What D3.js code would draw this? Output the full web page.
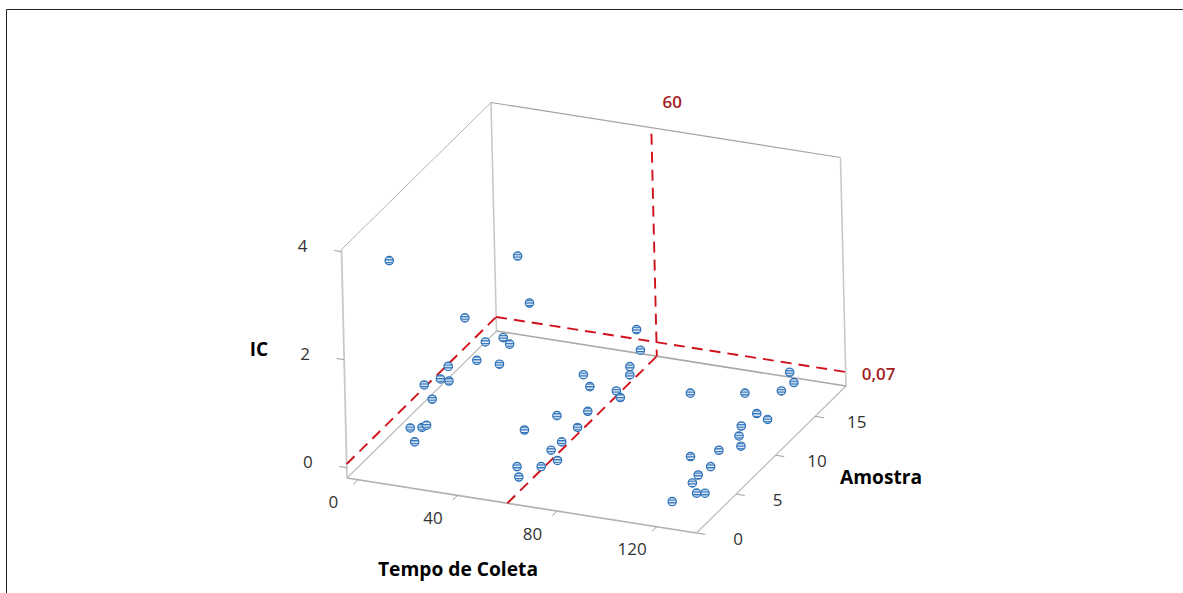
<!DOCTYPE html>
<html>
<head>
<meta charset="utf-8">
<script src="https://cdn.jsdelivr.net/npm/d3@7"></script>
<style>
	html, body { margin: 0; padding: 0; background: #fff; overflow: hidden; }
	text { font-family: 'Open Sans', 'Noto Sans', sans-serif; }
</style>
</head>
<body>
<div id="chart"></div>
<script>
// Values, one entry per point
var tempo = [
	10.4, 10.4, 10.4, 10.4, 10.4, 10.4, 10.4, 10.4, 12.4, 10.4, 10.4, 10.4, 10.4, 10.4, 10.4, 10.4, 10.4, 10.4,
	60.4, 66.4, 66.4, 66.4, 66.4, 66.4, 66.4, 60.4, 60.4, 66.4, 66.4, 66.4, 66.4, 66.4, 66.4, 66.4, 66.4, 66.4,
	129.4, 129.4, 129.4, 129.4, 129.4, 129.4, 129.4, 129.4, 129.4, 129.4, 129.4, 129.4, 129.4, 129.4, 129.4, 129.4, 129.4, 120.4
];
var amostra = [
	1.33, 17.2, 18.52, 10.5, 12.96, 15.17, 15.95, 11.85, 14.02, 8.3, 7.3, 8.35, 5.28, 6.22, 3.43, 4.88, 5.45, 3.93,
	2.21, 4.43, 6.94, 4.94, 3.6, 4.36, 2.33, 1.19, 1.38, 14.52, 14.93, 13.58, 13.55, 7.82, 8.58, 11.84, 12.31, 8.25,
	1.68, 8.42, 14.01, 14.5, 12.93, 9.82, 11.14, 7.87, 7.56, 7.77, 5.03, 1.51, 3.97, 2.4, 1.66, 2.15, 3.19, 1.87
];
var ic = [
	3.75, 1.55, 0.49, 1.37, 0.57, 0.33, 0.1, 0.39, 0.02, 0.79, 0.7, 0.51, 0.88, 0.48, 0.35, 0.15, 0.11, 0.02,
	0.85, 0.84, 0.26, 0.28, 0.32, 0.02, 0.2, 0.32, 0.1, 0.98, 0.54, 0.43, 0.28, 1.11, 0.78, 0.23, 0.04, 0.37,
	2.11, 1.14, 0.72, 0.46, 0.53, 0.56, 0.26, 0.61, 0.47, 0.25, 0.57, 0.96, 0.42, 0.49, 0.45, 0.19, 0.04, 0.01
];

var tempo_ticks = [0, 40, 80, 120];
var amostra_ticks = [0, 5, 10, 15];
var ic_ticks = [0, 2, 4];
var tempo_ref = 60;
var ic_ref = 0.07;
var tempo_ref_label = '60';
var ic_ref_label = '0,07';

var chart_width = 1183;
var chart_height = 593;

var svg = d3.select('#chart')
	.append('svg')
	.attr('width', chart_width)
	.attr('height', chart_height)
	.style('display', 'block');

// Box edges on screen, the view is close to parallel so one offset per axis is enough
var origin = [347, 478];
var x_scale = d3.scaleLinear().domain([-4.4, 136]).range([0, 1]);
var y_scale = d3.scaleLinear().domain([0, 18.9]).range([0, 1]);
var z_scale = d3.scaleLinear().domain([-0.19, 4.04]).range([0, 1]);
var x_vec = [349.5, 55];
var y_vec = [149.5, -147];
var z_vec = [-5.5, -228.5];

var t_lo = x_scale.domain()[0], t_hi = x_scale.domain()[1];
var a_lo = y_scale.domain()[0], a_hi = y_scale.domain()[1];
var c_lo = z_scale.domain()[0], c_hi = z_scale.domain()[1];

function project(t, a, c){
	var ft = x_scale(t), fa = y_scale(a), fc = z_scale(c);
	return [
		origin[0] + ft * x_vec[0] + fa * y_vec[0] + fc * z_vec[0],
		origin[1] + ft * x_vec[1] + fa * y_vec[1] + fc * z_vec[1]
	];
}

var line = d3.line();

function draw_edge(p0, p1, color, width){
	svg.append('path')
		.attr('d', line([project(p0[0], p0[1], p0[2]), project(p1[0], p1[1], p1[2])]))
		.attr('fill', 'none')
		.attr('stroke', color)
		.attr('stroke-width', width);
}

// Frame of the picture
svg.append('path')
	.attr('d', 'M6.5,593V9.5H1183')
	.attr('fill', 'none')
	.attr('stroke', '#222')
	.attr('stroke-width', 1);

// Striped marker fill
var stripes = svg.append('defs').append('pattern')
	.attr('id', 'stripes')
	.attr('patternUnits', 'userSpaceOnUse')
	.attr('width', 4)
	.attr('height', 2.7);
stripes.append('rect')
	.attr('width', 4)
	.attr('height', 2.7)
	.attr('fill', '#eef3fa');
stripes.append('rect')
	.attr('width', 4)
	.attr('height', 1.3)
	.attr('fill', '#2a70b8');

// Create box
draw_edge([t_lo, a_lo, c_lo], [t_lo, a_lo, c_hi], '#c9c9c9', 1.8);
draw_edge([t_lo, a_hi, c_lo], [t_lo, a_hi, c_hi], '#c9c9c9', 1.6);
draw_edge([t_hi, a_hi, c_lo], [t_hi, a_hi, c_hi], '#c9c9c9', 1.6);
draw_edge([t_lo, a_lo, c_hi], [t_lo, a_hi, c_hi], '#b5b5b5', 1);
draw_edge([t_lo, a_hi, c_hi], [t_hi, a_hi, c_hi], '#a5a5a5', 1.2);
draw_edge([t_lo, a_lo, c_lo], [t_hi, a_lo, c_lo], '#b0b0b0', 1.6);
draw_edge([t_hi, a_lo, c_lo], [t_hi, a_hi, c_lo], '#bdbdbd', 1.2);
draw_edge([t_lo, a_lo, c_lo], [t_lo, a_hi, c_lo], '#bdbdbd', 1.2);
draw_edge([t_lo, a_hi, c_lo], [t_hi, a_hi, c_lo], '#a8a8a8', 1.6);

// Create ticks
tempo_ticks.forEach(function(d){
	draw_edge([d, a_lo, c_lo], [d, -0.6, c_lo], '#a0a0a0', 1);
});
amostra_ticks.forEach(function(d){
	draw_edge([t_hi, d, c_lo], [t_hi + 3.5, d, c_lo], '#a0a0a0', 1);
});
ic_ticks.forEach(function(d){
	draw_edge([t_lo, a_lo, d], [t_lo - 3, a_lo, d], '#a0a0a0', 1);
});

// Create reference lines
var ref_lines = [
	[[t_lo, a_lo, ic_ref], [t_lo, a_hi, ic_ref]],
	[[t_lo, a_hi, ic_ref], [t_hi, a_hi, ic_ref]],
	[[tempo_ref, a_lo, c_lo], [tempo_ref, a_hi, c_lo]],
	[[tempo_ref, a_hi, c_hi - 0.11], [tempo_ref, a_hi, c_lo]]
];
svg.append('g').selectAll('path')
	.data(ref_lines)
	.enter()
	.append('path')
	.attr('d', function(d){
		return line(d.map(function(p){
			return project(p[0], p[1], p[2]);
		}));
	})
	.attr('fill', 'none')
	.attr('stroke', '#d0111b')
	.attr('stroke-width', 1.9)
	.attr('stroke-dasharray', '11,7');

// Create points
svg.append('g').selectAll('circle')
	.data(tempo)
	.enter()
	.append('circle')
	.attr('cx', function(d, i){
		return project(d, amostra[i], ic[i])[0];
	})
	.attr('cy', function(d, i){
		return project(d, amostra[i], ic[i])[1];
	})
	.attr('r', 4.2)
	.attr('fill', 'url(#stripes)')
	.attr('stroke', '#2a70b8')
	.attr('stroke-width', 1.2);

// Create tick labels
function add_label(pos, str, size, color, weight){
	svg.append('text')
		.attr('x', pos[0])
		.attr('y', pos[1])
		.attr('text-anchor', 'middle')
		.attr('dominant-baseline', 'central')
		.attr('font-size', size)
		.attr('font-weight', weight)
		.attr('fill', color)
		.text(str);
}

tempo_ticks.forEach(function(d){
	var p = project(d, a_lo, c_lo);
	add_label([p[0] - 24.5, p[1] + 22], d, 17, '#333', 400);
});
amostra_ticks.forEach(function(d){
	var p = project(t_hi, d, c_lo);
	add_label([p[0] + 41.5, p[1] + 5], d, 17, '#333', 400);
});
ic_ticks.forEach(function(d){
	var p = project(t_lo, a_lo, d);
	add_label([p[0] - 39, p[1] - 6.5], d, 17, '#333', 400);
});

// Create reference labels
var tempo_top = project(tempo_ref, a_hi, c_hi);
var ic_right = project(t_hi, a_hi, ic_ref);
add_label([tempo_top[0] + 21, tempo_top[1] - 26], tempo_ref_label, 17, '#a31d1d', 600);
add_label([ic_right[0] + 33, ic_right[1] + 2], ic_ref_label, 17, '#a31d1d', 600);

// Create axis titles
add_label([259, 349], 'IC', 19, '#000', 700);
add_label([458, 568], 'Tempo de Coleta', 19.2, '#000', 700);
add_label([881, 476], 'Amostra', 19.2, '#000', 700);
</script>
</body>
</html>
